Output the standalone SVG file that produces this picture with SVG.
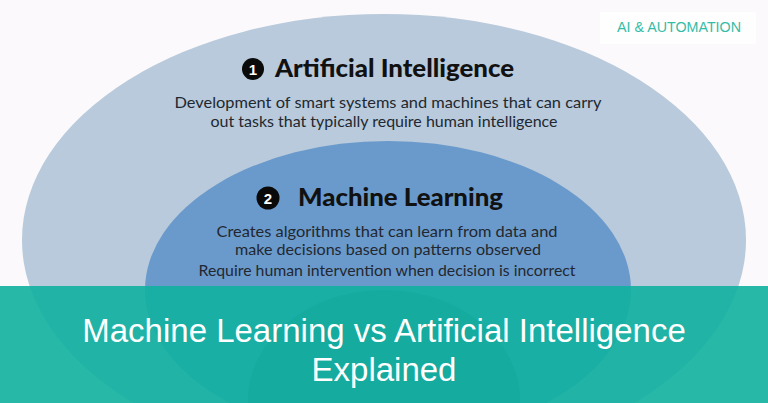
<svg xmlns="http://www.w3.org/2000/svg" width="768" height="403" viewBox="0 0 768 403">
<style>
.title{font-family:Lato,"Open Sans",sans-serif;font-weight:900;font-size:24px;fill:#111;}
.desc{font-family:Lato,"Open Sans",sans-serif;font-size:15px;fill:#222831;text-anchor:middle;}
.badge{fill:#0a0a0a;}
.badgenum{font-family:"Liberation Sans",Arial,sans-serif;font-weight:bold;font-size:15px;fill:#fff;text-anchor:middle;}
.banner-text{font-family:"Liberation Sans",Arial,sans-serif;font-size:33px;fill:#fff;text-anchor:middle;}
</style>
<rect x="0" y="0" width="768" height="403" fill="#fbf9fb"/>
<g id="label">
<rect x="600" y="12" width="156" height="32" fill="#fefefe"/>
<text x="679" y="32" font-family="'Liberation Sans',Arial,sans-serif" font-size="14" fill="#35bca6" text-anchor="middle" textLength="124" lengthAdjust="spacingAndGlyphs">AI &amp; AUTOMATION</text>
</g>
<g id="node-ai">
<ellipse cx="384" cy="240" rx="362" ry="226" fill="#b8cadb"/>
<circle class="badge" cx="253" cy="69" r="11"/>
<text class="badgenum" x="253" y="74.5">1</text>
<text class="title" x="275" y="77" textLength="239" lengthAdjust="spacingAndGlyphs">Artificial Intelligence</text>
<text class="desc" x="388" y="108" textLength="427" lengthAdjust="spacingAndGlyphs">Development of smart systems and machines that can carry</text>
<text class="desc" x="384" y="127" textLength="347" lengthAdjust="spacingAndGlyphs">out tasks that typically require human intelligence</text>
</g>
<g id="node-ml">
<ellipse cx="388" cy="290" rx="243" ry="149" fill="#6a9acb"/>
<circle class="badge" cx="268" cy="198" r="11.5"/>
<text class="badgenum" x="268" y="203.5">2</text>
<text class="title" x="298" y="206" textLength="205" lengthAdjust="spacingAndGlyphs">Machine Learning</text>
<text class="desc" x="387" y="237" textLength="341" lengthAdjust="spacingAndGlyphs">Creates algorithms that can learn from data and</text>
<text class="desc" x="388" y="255" textLength="306" lengthAdjust="spacingAndGlyphs">make decisions based on patterns observed</text>
<text class="desc" x="387" y="276" textLength="377" lengthAdjust="spacingAndGlyphs">Require human intervention when decision is incorrect</text>
</g>
<g id="node-dl">
<ellipse cx="384" cy="400" rx="136" ry="110" fill="#3e6c9e"/>
</g>
<g id="banner">
<rect x="0" y="286" width="768" height="117" fill="#12b19f" fill-opacity="0.91"/>
<text class="banner-text" x="384" y="342">Machine Learning vs Artificial Intelligence</text>
<text class="banner-text" x="384" y="381">Explained</text>
</g>
</svg>
